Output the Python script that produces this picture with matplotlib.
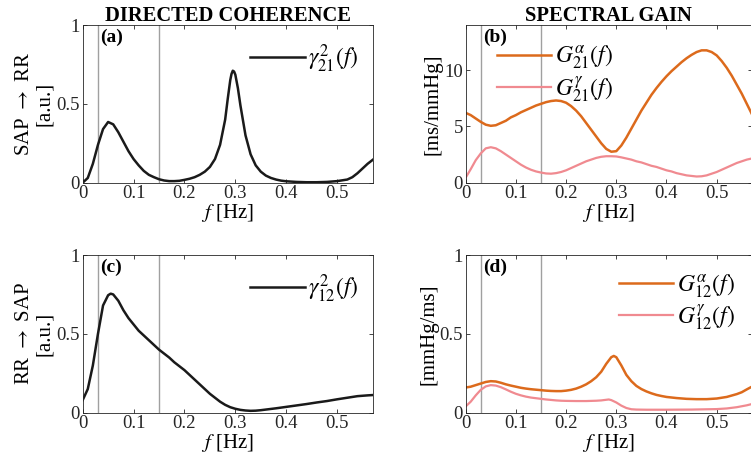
import numpy as np
import matplotlib
matplotlib.use("Agg")
import matplotlib.pyplot as plt

plt.rcParams['font.family'] = ['Liberation Serif', 'DejaVu Serif']
plt.rcParams['mathtext.fontset'] = 'stix'

# (a) directed coherence SAP -> RR
f_a = [0, 0.01, 0.02, 0.03, 0.04, 0.05, 0.06, 0.07, 0.08, 0.09, 0.10, 0.11, 0.12, 0.13, 0.14,
       0.15, 0.16, 0.17, 0.18, 0.19, 0.20, 0.21, 0.22, 0.23, 0.24, 0.25, 0.26, 0.27, 0.28, 0.285,
       0.29, 0.2925, 0.295, 0.2975, 0.30, 0.305, 0.31, 0.32, 0.33, 0.34, 0.35, 0.36, 0.37, 0.38, 0.39,
       0.40, 0.42, 0.44, 0.46, 0.48, 0.50, 0.52, 0.53, 0.54, 0.55, 0.56, 0.57]
coh_21 = [0, 0.03, 0.12, 0.24, 0.34, 0.385, 0.37, 0.32, 0.26, 0.2, 0.15, 0.11, 0.075, 0.05, 0.035,
          0.022, 0.014, 0.01, 0.01, 0.012, 0.018, 0.025, 0.035, 0.05, 0.07, 0.1, 0.15, 0.24, 0.40, 0.53,
          0.65, 0.69, 0.71, 0.705, 0.685, 0.60, 0.49, 0.30, 0.18, 0.11, 0.07, 0.045, 0.03, 0.02, 0.013,
          0.009, 0.005, 0.003, 0.003, 0.005, 0.01, 0.02, 0.035, 0.06, 0.09, 0.12, 0.145]

# (c) directed coherence RR -> SAP
f_c = [0, 0.01, 0.02, 0.03, 0.04, 0.05, 0.055, 0.06, 0.07, 0.08, 0.09, 0.10, 0.11, 0.12, 0.13,
       0.14, 0.15, 0.16, 0.17, 0.18, 0.19, 0.20, 0.21, 0.22, 0.23, 0.24, 0.25, 0.26, 0.27, 0.28,
       0.29, 0.30, 0.31, 0.32, 0.33, 0.34, 0.35, 0.36, 0.38, 0.40, 0.42, 0.44, 0.46, 0.48, 0.50,
       0.52, 0.54, 0.56, 0.57]
coh_12 = [0.08, 0.15, 0.3, 0.5, 0.68, 0.745, 0.755, 0.75, 0.71, 0.65, 0.60, 0.56, 0.52, 0.49, 0.46,
          0.43, 0.40, 0.375, 0.35, 0.32, 0.295, 0.27, 0.24, 0.21, 0.18, 0.15, 0.12, 0.095, 0.07, 0.05,
          0.035, 0.025, 0.018, 0.014, 0.012, 0.013, 0.016, 0.02, 0.028, 0.037, 0.046, 0.055, 0.065, 0.074, 0.085,
          0.095, 0.105, 0.11, 0.112]

# (b) spectral gain SAP -> RR
f_b = [0, 0.01, 0.02, 0.03, 0.04, 0.05, 0.06, 0.07, 0.08, 0.09, 0.10, 0.11, 0.12, 0.13, 0.14,
       0.15, 0.16, 0.17, 0.18, 0.19, 0.20, 0.21, 0.22, 0.23, 0.24, 0.25, 0.26, 0.27, 0.28, 0.29,
       0.30, 0.31, 0.32, 0.33, 0.34, 0.35, 0.36, 0.37, 0.38, 0.39, 0.40, 0.41, 0.42, 0.43, 0.44,
       0.45, 0.46, 0.47, 0.48, 0.49, 0.50, 0.51, 0.52, 0.53, 0.54, 0.55, 0.56, 0.57]
gain_a21 = [6.2, 6.0, 5.7, 5.4, 5.15, 5.05, 5.1, 5.3, 5.5, 5.8, 6.0, 6.25, 6.45, 6.65, 6.85,
            7.0, 7.15, 7.25, 7.3, 7.25, 7.1, 6.8, 6.4, 5.9, 5.3, 4.7, 4.1, 3.5, 3.0, 2.75,
            2.8, 3.3, 4.0, 4.8, 5.6, 6.4, 7.1, 7.8, 8.4, 8.95, 9.45, 9.9, 10.3, 10.7, 11.05,
            11.35, 11.6, 11.75, 11.75, 11.6, 11.3, 10.8, 10.2, 9.5, 8.7, 7.9, 7.0, 6.1]
gain_g21 = [0.45, 1.2, 2.0, 2.6, 3.05, 3.15, 3.05, 2.8, 2.5, 2.2, 1.9, 1.6, 1.35, 1.15, 1.0,
            0.9, 0.82, 0.8, 0.85, 0.95, 1.1, 1.3, 1.5, 1.7, 1.9, 2.05, 2.2, 2.3, 2.35, 2.35,
            2.33, 2.25, 2.15, 2.05, 1.9, 1.8, 1.65, 1.5, 1.4, 1.25, 1.1, 1.0, 0.85, 0.75, 0.65,
            0.6, 0.55, 0.57, 0.65, 0.8, 0.95, 1.15, 1.35, 1.55, 1.75, 1.9, 2.05, 2.15]

# (d) spectral gain RR -> SAP
f_d = [0, 0.01, 0.02, 0.03, 0.04, 0.05, 0.06, 0.07, 0.08, 0.09, 0.10, 0.11, 0.12, 0.13, 0.14,
       0.15, 0.16, 0.17, 0.18, 0.19, 0.20, 0.21, 0.22, 0.23, 0.24, 0.25, 0.26, 0.27, 0.28, 0.29,
       0.295, 0.30, 0.31, 0.32, 0.33, 0.34, 0.35, 0.36, 0.37, 0.38, 0.39, 0.40, 0.42, 0.44, 0.46,
       0.48, 0.50, 0.52, 0.54, 0.55, 0.56, 0.57]
gain_a12 = [0.16, 0.165, 0.175, 0.185, 0.195, 0.2, 0.198, 0.19, 0.18, 0.172, 0.165, 0.158, 0.153, 0.149, 0.146,
            0.143, 0.14, 0.138, 0.137, 0.137, 0.14, 0.145, 0.153, 0.165, 0.18, 0.2, 0.225, 0.26, 0.31, 0.352,
            0.36, 0.352, 0.3, 0.24, 0.2, 0.17, 0.15, 0.135, 0.123, 0.113, 0.106, 0.1, 0.093, 0.088, 0.086,
            0.086, 0.09, 0.1, 0.118, 0.13, 0.148, 0.165]
f_d2 = [0, 0.01, 0.02, 0.03, 0.04, 0.05, 0.06, 0.07, 0.08, 0.09, 0.10, 0.11, 0.12, 0.13, 0.14,
        0.15, 0.16, 0.17, 0.18, 0.19, 0.20, 0.22, 0.24, 0.26, 0.27, 0.28, 0.285, 0.29, 0.30, 0.31,
        0.32, 0.33, 0.34, 0.36, 0.40, 0.45, 0.50, 0.52, 0.54, 0.56, 0.57]
gain_g12 = [0.04, 0.07, 0.11, 0.145, 0.167, 0.175, 0.172, 0.162, 0.148, 0.133, 0.12, 0.11, 0.102, 0.096, 0.092,
            0.088, 0.084, 0.081, 0.078, 0.076, 0.075, 0.074, 0.074, 0.076, 0.078, 0.082, 0.084, 0.08, 0.065, 0.045,
            0.03, 0.022, 0.02, 0.019, 0.019, 0.02, 0.023, 0.027, 0.035, 0.047, 0.055]

band_edges = [0.03, 0.15]

orange = '#dc6a1c'
pink = '#f08a90'
vgray = '#a0a0a0'

fig = plt.figure(figsize=(7.51, 4.63), dpi=100)
w_l, w_r, h = 0.3862, 0.3810, 0.3406
ax_a = fig.add_axes([0.1101, 0.6054, w_l, h])
ax_b = fig.add_axes([0.6201, 0.6054, w_r, h])
ax_c = fig.add_axes([0.1101, 0.1086, w_l, h])
ax_d = fig.add_axes([0.6201, 0.1086, w_r, h])

leg_kw = dict(frameon=False, fontsize=17, handlelength=2.3, handletextpad=0.15,
              labelspacing=0.1, borderaxespad=0.2)

ax_a.plot(f_a, coh_21, color='#1a1a1a', lw=1.8, label=r'$\gamma^2_{21}(f)$')
ax_c.plot(f_c, coh_12, color='#1a1a1a', lw=1.8, label=r'$\gamma^2_{12}(f)$')
ax_b.plot(f_b, gain_a21, color=orange, lw=1.8, label=r'$G^{\alpha}_{21}(f)$')
ax_b.plot(f_b, gain_g21, color=pink, lw=1.6, label=r'$G^{\gamma}_{21}(f)$')
ax_d.plot(f_d, gain_a12, color=orange, lw=1.8, label=r'$G^{\alpha}_{12}(f)$')
ax_d.plot(f_d2, gain_g12, color=pink, lw=1.6, label=r'$G^{\gamma}_{12}(f)$')

ax_a.legend(loc='upper right', bbox_to_anchor=(1.0, 0.98), **leg_kw)
ax_c.legend(loc='upper right', bbox_to_anchor=(1.0, 0.98), **leg_kw)
ax_b.legend(loc='upper left', bbox_to_anchor=(0.06, 0.97), **leg_kw)
ax_d.legend(loc='upper right', bbox_to_anchor=(0.99, 0.98), **leg_kw)

for ax, lab in zip([ax_a, ax_b, ax_c, ax_d], ['(a)', '(b)', '(c)', '(d)']):
    for e in band_edges:
        ax.axvline(e, color=vgray, lw=1.0, zorder=0)
    ax.set_xlim(0, 0.57)
    ax.set_xticks([0, 0.1, 0.2, 0.3, 0.4, 0.5])
    ax.set_xticklabels(['0', '0.1', '0.2', '0.3', '0.4', '0.5'])
    ax.tick_params(direction='in', top=True, right=True, labelsize=13.5, length=3,
                   width=0.6, colors='#262626', pad=2)
    for s in ax.spines.values():
        s.set_color('#262626')
        s.set_linewidth(0.6)
    ax.set_xlabel(r'$f$ [Hz]', fontsize=15, labelpad=0)
    ax.text(0.06, 0.975, lab, transform=ax.transAxes, fontsize=14, fontweight='bold',
            va='top', ha='left')

for ax in [ax_a, ax_c, ax_d]:
    ax.set_ylim(0, 1)
    ax.set_yticks([0, 0.5, 1])
    ax.set_yticklabels(['0', '0.5', '1'])
ax_b.set_ylim(0, 14)
ax_b.set_yticks([0, 5, 10])

ax_a.set_ylabel('SAP $\\rightarrow$ RR\n[a.u.]', fontsize=15, labelpad=2, linespacing=1.05)
ax_c.set_ylabel('RR $\\rightarrow$ SAP\n[a.u.]', fontsize=15, labelpad=2, linespacing=1.05)
ax_b.set_ylabel('[ms/mmHg]', fontsize=15, labelpad=1)
ax_d.set_ylabel('[mmHg/ms]', fontsize=15, labelpad=1)

ax_a.set_title('DIRECTED COHERENCE', fontsize=14.8, fontweight='bold', pad=3)
ax_b.set_title('SPECTRAL GAIN', fontsize=14.8, fontweight='bold', pad=3)

fig.savefig('out.png', dpi=100)
